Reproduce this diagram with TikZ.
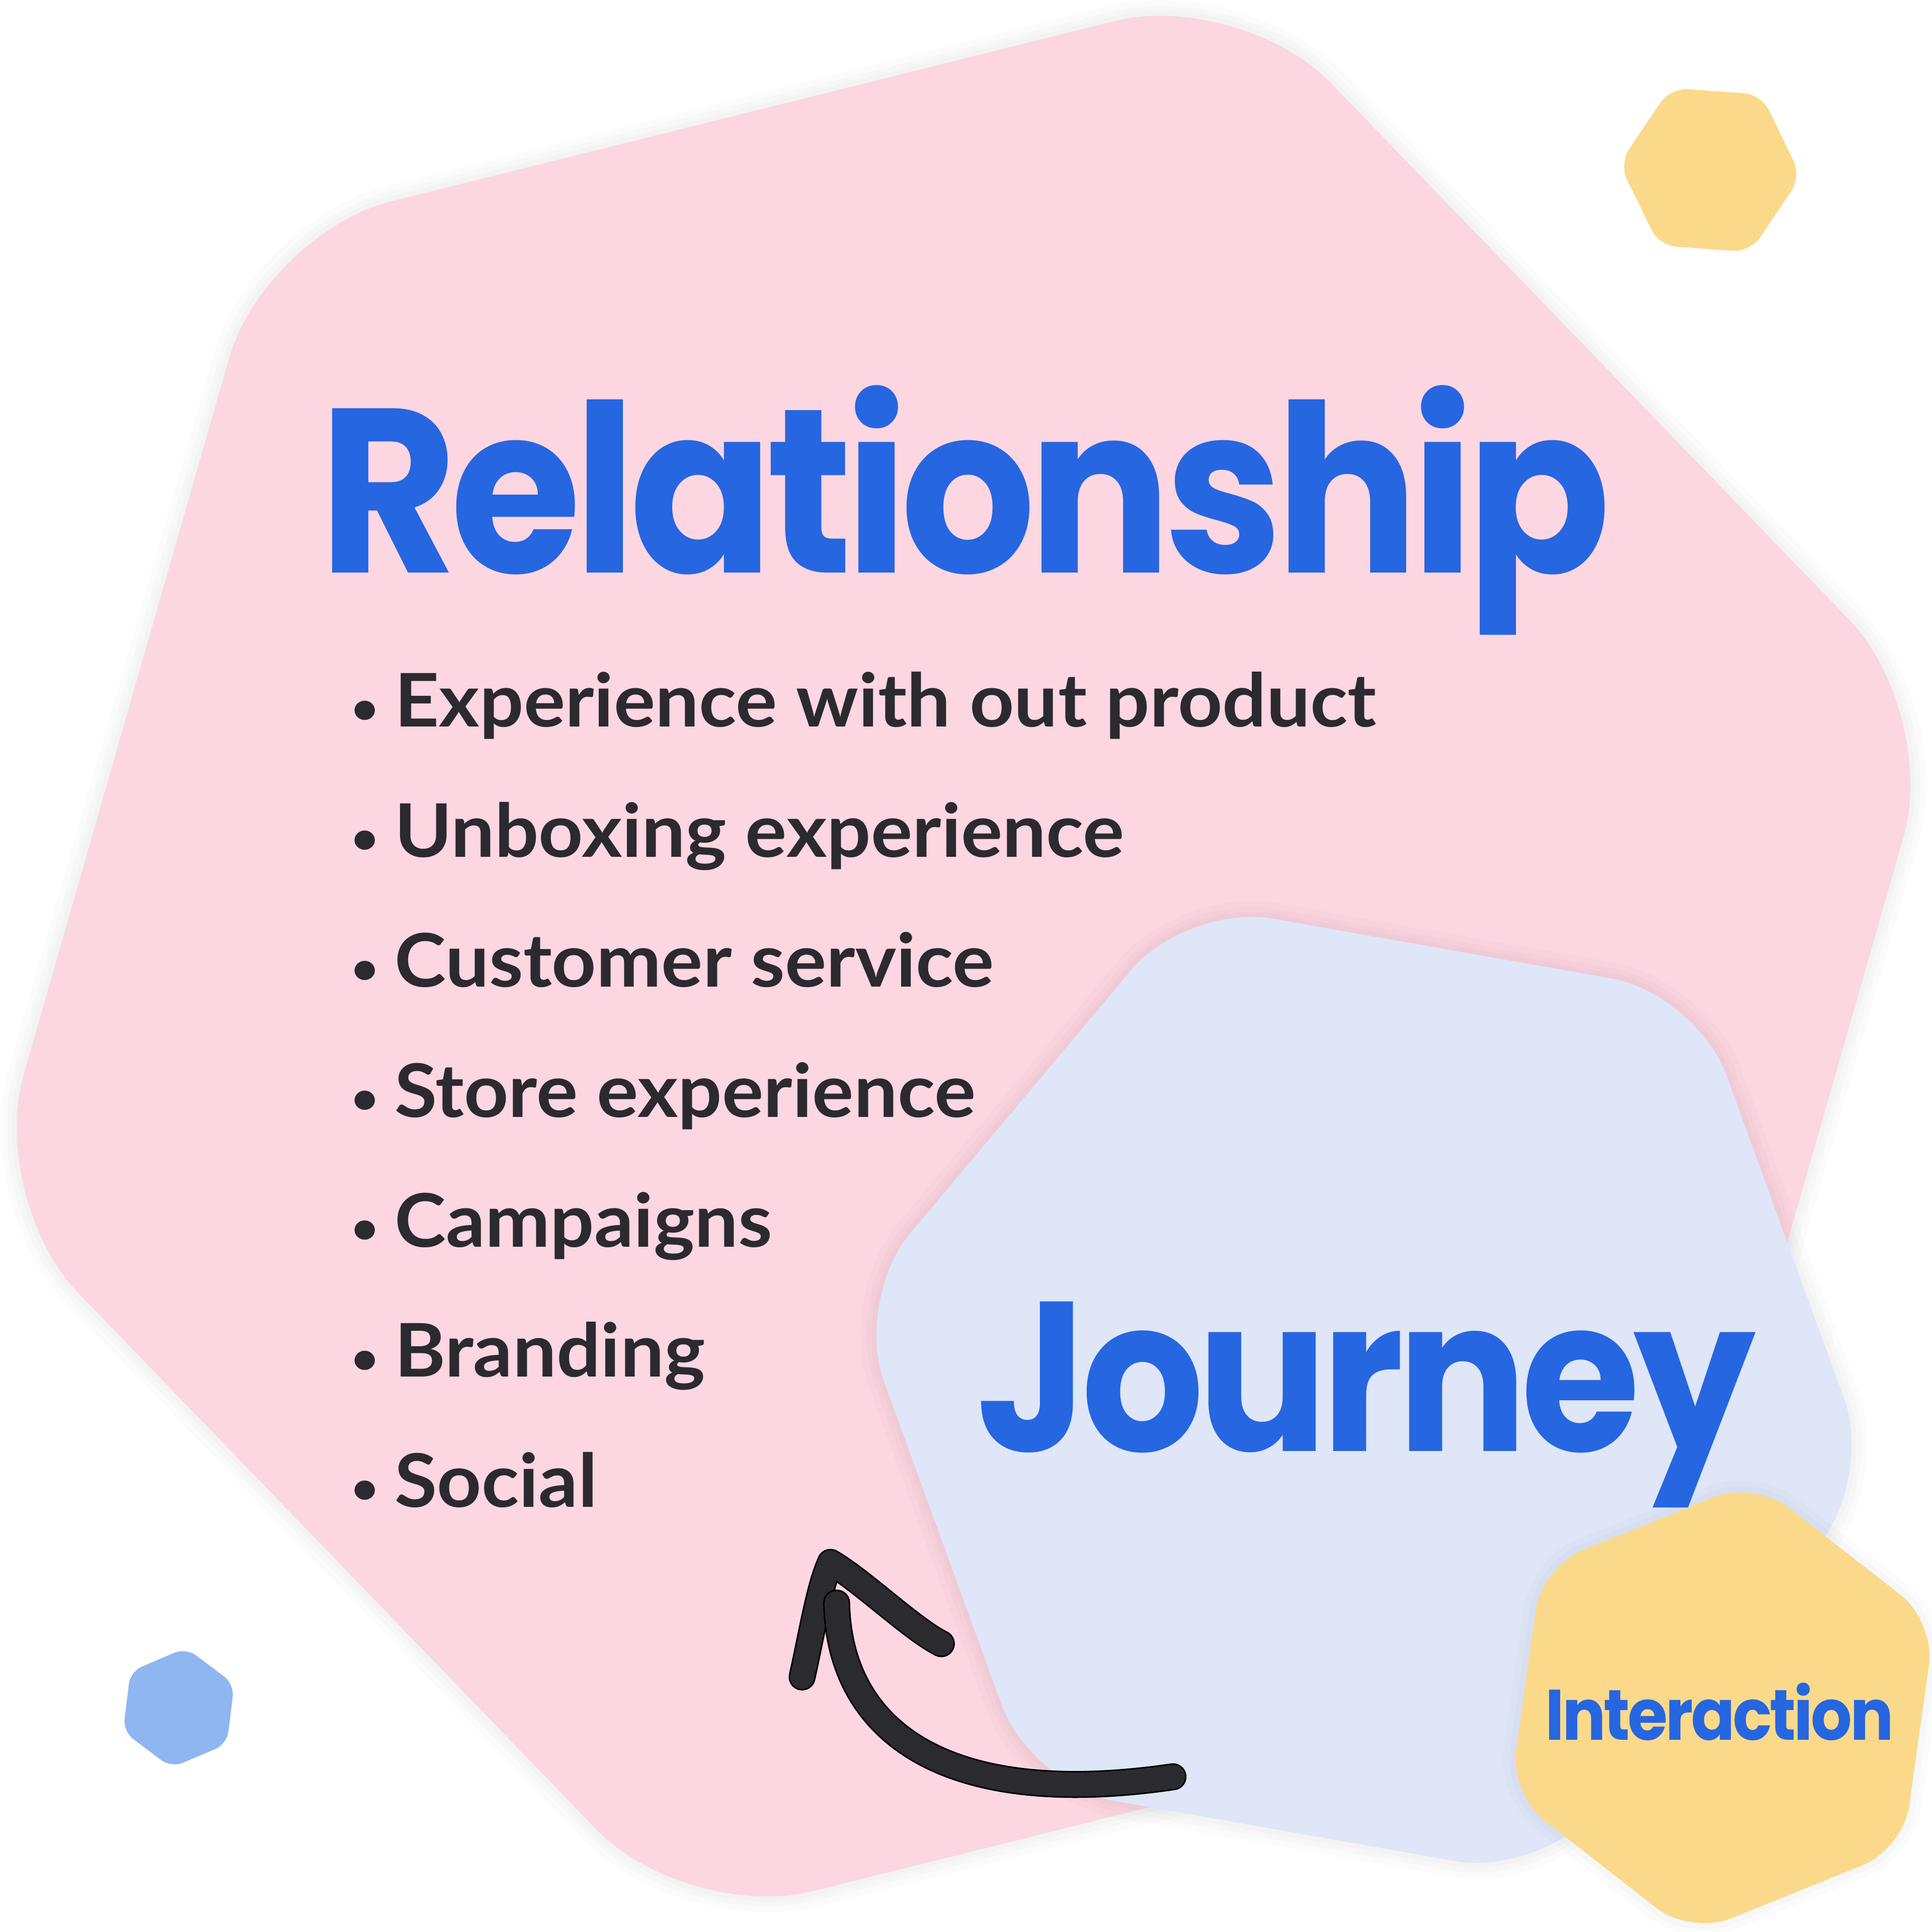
\documentclass[tikz,border=0pt]{standalone}
\usepackage{fontspec}
\usetikzlibrary{positioning}
\newfontfamily\headfont{Poppins}[LetterSpace=-3, FakeStretch=0.905]
\newfontfamily\listfont{Lato}[FakeStretch=1.05]
\definecolor{blush}{HTML}{FCD6E1}
\definecolor{mist}{HTML}{DEE6F8}
\definecolor{butter}{HTML}{FAD98A}
\definecolor{sky}{HTML}{8FB6F0}
\definecolor{royal}{HTML}{2666E0}
\definecolor{ink}{HTML}{2B2A2F}

% hexagon: options, centre, radius, first angle, corner cut
\newcommand\hexshape[5]{%
  \path[#1, rounded corners=#5, shift={(#2)}]
    (#4:#3) -- ({#4+60}:#3) -- ({#4+120}:#3) -- ({#4+180}:#3)
    -- ({#4+240}:#3) -- ({#4+300}:#3) -- cycle;}
\newcommand\dotmark{\makebox[35pt][l]{\fontsize{36}{36}\selectfont\raisebox{2.7pt}{\textbullet}}}

\tikzset{
  halo/.style={draw=black, draw opacity=0.015, line width=#1},
  title/.style={anchor=base west, inner sep=0pt, text=royal,
    font=\headfont\bfseries\fontsize{#1}{#1}\selectfont},
  item/.style={anchor=base west, inner sep=0pt, text=ink,
    font=\listfont\bfseries\fontsize{60}{60}\selectfont},
  stroke/.style={draw=black, line width=1.2pt, double=ink,
    double distance=19.5pt, line cap=round, line join=round}
}

\begin{document}
\begin{tikzpicture}[x=1pt, y=-1pt]
  \useasboundingbox (0,0) rectangle (1568,1568);
  \fill[white] (0,0) rectangle (1568,1568);

  % background shapes
  \foreach \w in {26,16,8}
    {\hexshape{halo=\w pt}{782,776}{816}{-14}{105pt}}
  \hexshape{fill=blush}{782,776}{816}{-14}{105pt}
  \hexshape{fill=butter}{1388,138}{74}{4}{14pt}
  \hexshape{fill=sky}{145,1386}{49}{37}{10pt}

  \foreach \w in {26,16,8}
    {\hexshape{halo=\w pt}{1107,1128}{420}{10}{70pt}}
  \hexshape{fill=mist}{1107,1128}{420}{10}{70pt}

  \foreach \w in {20,10}
    {\hexshape{halo=\w pt}{1398,1386}{186}{38}{35pt}}
  \hexshape{fill=butter}{1398,1386}{186}{38}{35pt}

  % texts
  \node[title=190] (rel) at (259,465) {Relationship};
  \foreach \txt [count=\i from 0] in {Experience with out product,
      Unboxing experience, Customer service, Store experience,
      Campaigns, Branding, Social}
    \node[item] (item\i) at (285,{590+105.5*\i}) {\dotmark\txt};
  \node[title=173] (jour) at (792,1178) {Journey};
  \node[title=58] (inter) at (1254,1412) {Interaction};

  % arrow
  \coordinate (tail) at (952,1442);
  \coordinate (tip) at (679,1301);
  \draw[stroke] (651,1361) .. controls (660,1320) and (665,1288) .. (674,1268)
    .. controls (700,1283) and (740,1322) .. (764,1334);
  \draw[stroke] (tail) .. controls (760,1470) and (681,1400) .. (tip);
\end{tikzpicture}
\end{document}
